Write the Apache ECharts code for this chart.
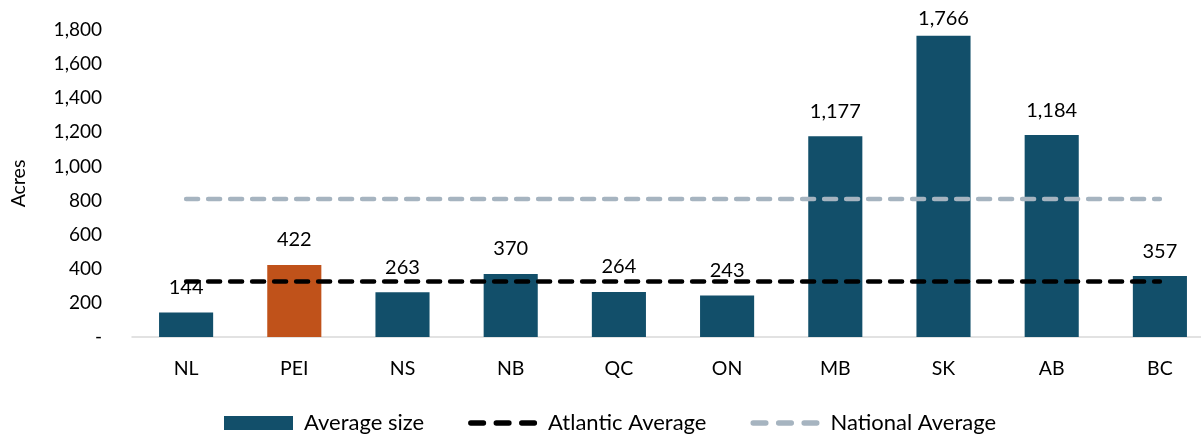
<!DOCTYPE html>
<html><head><meta charset="utf-8">
<script src="https://cdn.jsdelivr.net/npm/echarts@6/dist/echarts.min.js"></script>
<style>html,body{margin:0;padding:0;background:#fff}#c{width:1201px;height:435px}</style>
</head><body><div id="c"></div>
<script>
const categories = ['NL','PEI','NS','NB','QC','ON','MB','SK','AB','BC'];
const averageSize = [144,422,263,370,264,243,1177,1766,1184,357];
const atlanticAverage = 325;
const nationalAverage = 809;
const highlight = 'PEI';

const FONT = 'Lato';
const TEAL = '#124F6A', ORANGE = '#C0521A', BLACK = '#000', GREY = '#A6B4C0';
const fmt = v => Math.round(v).toString().replace(/\B(?=(\d{3})+(?!\d))/g, ',');
const dashIcon = 'path://' + [0,24,48].map(o =>
  `M${o+2.5},0 H${o+14.5} A2.5,2.5 0 0 1 ${o+14.5},5 H${o+2.5} A2.5,2.5 0 0 1 ${o+2.5},0 Z`).join(' ');
const maxVal = Math.max(...averageSize);

const chart = echarts.init(document.getElementById('c'), null, {renderer:'canvas'});
chart.setOption({
  animation:false,
  textStyle:{fontFamily:FONT},
  grid:{left:132, width:1082, top:30, bottom:98, outerBoundsMode:'none', containLabel:false},
  legend:{
    top:407, left:219, itemGap:44, itemWidth:69, itemHeight:14,
    symbolKeepAspect:true,
    textStyle:{fontFamily:FONT, fontSize:22, color:'#000', padding:[0,0,0,6]},
    data:[
      {name:'Average size', icon:'rect'},
      {name:'Atlantic Average', icon:dashIcon},
      {name:'National Average', icon:dashIcon}
    ]
  },
  xAxis:{
    type:'category', data:categories,
    axisLine:{lineStyle:{color:'#D9D9D9', width:1.5}},
    axisTick:{show:false},
    axisLabel:{fontFamily:FONT, fontSize:19.5, color:'#000', margin:22}
  },
  yAxis:{
    type:'value', min:0, max:1800, interval:200,
    name:'Acres', nameLocation:'middle', nameGap:103, nameRotate:90,
    nameTextStyle:{fontFamily:FONT, fontSize:19.5, color:'#000'},
    splitLine:{show:false}, axisLine:{show:false}, axisTick:{show:false},
    axisLabel:{fontFamily:FONT, fontSize:19, color:'#000', margin:30,
      formatter:v => v === 0 ? '-' : fmt(v)}
  },
  series:[
    {name:'Average size', type:'bar', barWidth:'50%',
     itemStyle:{color:TEAL},
     data:averageSize.map((v,i)=>({
       value:v,
       itemStyle:{color: categories[i]===highlight ? ORANGE : TEAL},
       label: v === maxVal ? {distance:7} : undefined
     })),
     label:{show:true, position:'top', distance:15, fontFamily:FONT, fontSize:20, color:'#000', formatter:p=>fmt(p.value)}
    },
    {name:'Atlantic Average', type:'line', symbol:'none', z:5,
     data:categories.map(()=>atlanticAverage),
     lineStyle:{color:BLACK, width:4.5, type:[12,10], cap:'round'},
     itemStyle:{color:BLACK}},
    {name:'National Average', type:'line', symbol:'none', z:4,
     data:categories.map(()=>nationalAverage),
     lineStyle:{color:GREY, width:4.5, type:[12,10], cap:'round'},
     itemStyle:{color:GREY}}
  ]
});
</script></body></html>
